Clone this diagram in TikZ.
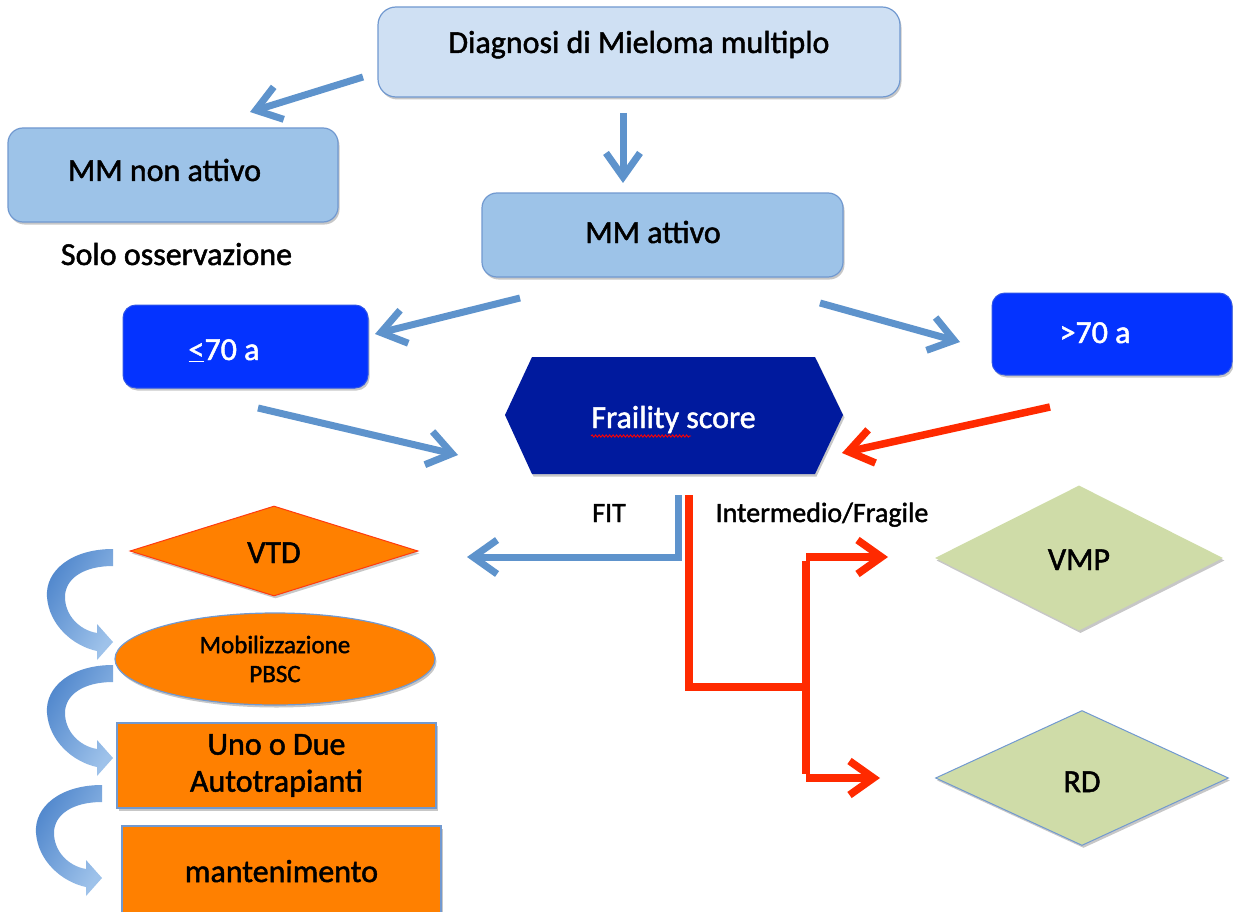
\documentclass[tikz,border=0pt]{standalone}
\usepackage{fontspec}
\setmainfont{Carlito}[FakeBold=1.5]
\usetikzlibrary{shapes.geometric,arrows.meta,shadows,decorations.pathmorphing}
\definecolor{diagfill}{HTML}{CFE0F3}
\definecolor{mmfill}{HTML}{9DC3E8}
\definecolor{boxedge}{HTML}{7199D0}
\definecolor{agefill}{HTML}{0433FF}
\definecolor{ageedge}{HTML}{2F55E8}
\definecolor{hexfill}{HTML}{001A9E}
\definecolor{arrblue}{HTML}{5E93CC}
\definecolor{arrred}{HTML}{FF2A00}
\definecolor{orfill}{HTML}{FF8000}
\definecolor{orredge}{HTML}{FF3A10}
\definecolor{greenfill}{HTML}{CFDCA8}
\definecolor{curvedark}{HTML}{4F86CC}
\definecolor{curvelight}{HTML}{9EC2EA}
\begin{document}
\begin{tikzpicture}[x=1pt,y=-1pt,
  shade/.style={drop shadow={shadow xshift=1.5pt,shadow yshift=-2.5pt,opacity=0.22,fill=black}},
  bigfont/.style={font=\fontsize{32}{37}\selectfont},
  lightbox/.style={shade,draw=boxedge,fill=diagfill,rounded corners=18pt,line width=1.2pt,inner sep=0pt,bigfont},
  mmbox/.style={lightbox,fill=mmfill,rounded corners=15pt},
  agebox/.style={shade,draw=ageedge,fill=agefill,rounded corners=13pt,line width=1pt,inner sep=0pt,text=white,bigfont},
  orbox/.style={shade,draw=boxedge,fill=orfill,line width=1.2pt,inner sep=0pt,bigfont,align=center},
  plaintext/.style={inner sep=0pt,anchor=base,bigfont},
  smalltext/.style={inner sep=0pt,anchor=base,font=\fontsize{28}{33}\selectfont},
  bluearrow/.style={draw=arrblue,line width=7pt,-{Straight Barb[length=24pt,width=34pt]}},
  redarrow/.style={draw=arrred,line width=7.5pt,-{Straight Barb[length=24pt,width=34pt]}},
  blueline/.style={draw=arrblue,line width=7pt},
  redline/.style={draw=arrred,line width=7.5pt},
  curvearrow/.pic={
    \path[left color=curvedark,right color=curvelight,shading angle=60]
      (0,0) .. controls (-42,0) and (-68,22) .. (-66,48)
      .. controls (-64,76) and (-40,97) .. (-16,102)
      -- (-16,111) -- (0,93) -- (-16,75) -- (-16,84)
      .. controls (-34,81) and (-48,66) .. (-48,48)
      .. controls (-48,30) and (-30,17) .. (0,17) -- cycle;
  }
]
\clip (0,0) rectangle (1233,912);
\fill[white] (0,0) rectangle (1233,912);

% boxes
\node[lightbox,minimum width=522pt,minimum height=90pt,text height=22pt,text depth=20pt] (diag) at (639,52) {Diagnosi di Mieloma multiplo};
\node[mmbox,minimum width=330pt,minimum height=94pt,text height=22pt,text depth=10pt] (mmnon) at (173,175) {\hspace*{-17pt}MM non attivo};
\node[plaintext] (solo) at (176.5,265) {Solo osservazione};
\node[mmbox,minimum width=361pt,minimum height=84pt,text height=22pt,text depth=6pt] (mmatt) at (662.5,235) {\hspace*{-19pt}MM attivo};
\node[agebox,minimum width=245pt,minimum height=83pt,text height=27pt,text depth=0pt] (le70) at (245.5,346.5) {\hspace*{-43pt}\underline{<}70 a};
\node[agebox,minimum width=240pt,minimum height=82pt,text height=22pt,text depth=4pt] (gt70) at (1112,334) {\hspace*{-34pt}>70 a};

% frailty hexagon
\fill[hexfill,shade] (505,415) -- (532,357) -- (815,357) -- (843,415) -- (815,474) -- (532,474) -- cycle;
\node[inner sep=0pt,text=white,bigfont,text height=26pt,text depth=0pt] (frail) at (673.5,415) {Fraility score};
\draw[red,line width=0.9pt,decorate,decoration={snake,amplitude=1.1pt,segment length=3.5pt}] (591,436) -- (691,436);

\node[smalltext] (fit) at (609,522) {FIT};
\node[smalltext] (intfr) at (822,522) {Intermedio/Fragile};

% left column
\node[diamond,shade,draw=orredge,fill=orfill,line width=1pt,inner sep=0pt,minimum width=288pt,minimum height=90pt,bigfont,text height=24pt,text depth=0pt] (vtd) at (274,551) {VTD};
\node[ellipse,shade,draw=boxedge,fill=orfill,line width=1.2pt,inner sep=0pt,minimum width=320pt,minimum height=92pt,align=center,font=\fontsize{25}{29}\selectfont] (mobil) at (275,659) {Mobilizzazione\\PBSC};
\node[orbox,minimum width=319pt,minimum height=85pt] (auto) at (276.5,765.5) {Uno o Due\\Autotrapianti};
\node[orbox,minimum width=319pt,minimum height=92pt,text height=22pt,text depth=2pt] (mant) at (281.5,872) {mantenimento};

% right column
\node[diamond,shade,fill=greenfill,inner sep=0pt,minimum width=288pt,minimum height=145pt,bigfont,text height=24pt,text depth=0pt] (vmp) at (1079,558) {VMP};
\node[diamond,shade,draw=boxedge,fill=greenfill,line width=1pt,inner sep=0pt,minimum width=293pt,minimum height=135pt,bigfont,text height=28pt,text depth=0pt] (rd) at (1082,778) {RD};

% connector end points
\coordinate (a1s) at (363,77);   \coordinate (a1e) at (250,112);
\coordinate (a2s) at (623,113);  \coordinate (a2e) at (623,183);
\coordinate (a3s) at (520,298);  \coordinate (a3e) at (375,334);
\coordinate (a4s) at (820,303);  \coordinate (a4e) at (960,342);
\coordinate (a5s) at (258,408);  \coordinate (a5e) at (458,455);
\coordinate (a6s) at (1050,407); \coordinate (a6e) at (842,453);
\coordinate (fitS) at (678,495); \coordinate (fitE) at (467,557);
\coordinate (frS) at (689,495);  \coordinate (frJ) at (806,687);
\coordinate (brT) at (806,557);  \coordinate (brB) at (806,778);
\coordinate (vmpE) at (888,557); \coordinate (rdE) at (880,778);

\draw[bluearrow] (a1s) -- (a1e);
\draw[bluearrow] (a2s) -- (a2e);
\draw[bluearrow] (a3s) -- (a3e);
\draw[bluearrow] (a4s) -- (a4e);
\draw[bluearrow] (a5s) -- (a5e);
\draw[redarrow] (a6s) -- (a6e);
\draw[bluearrow] (fitS) |- (fitE);
\draw[redline] (frS) |- (frJ);
\draw[redline] ([yshift=-3.75pt]brT) -- ([yshift=3.75pt]brB);
\draw[redarrow] (brT) -- (vmpE);
\draw[redarrow] (brB) -- (rdE);

% curved block arrows
\pic at (113,549) {curvearrow};
\pic at (113,665) {curvearrow};
\pic at (102,785) {curvearrow};
\end{tikzpicture}
\end{document}
